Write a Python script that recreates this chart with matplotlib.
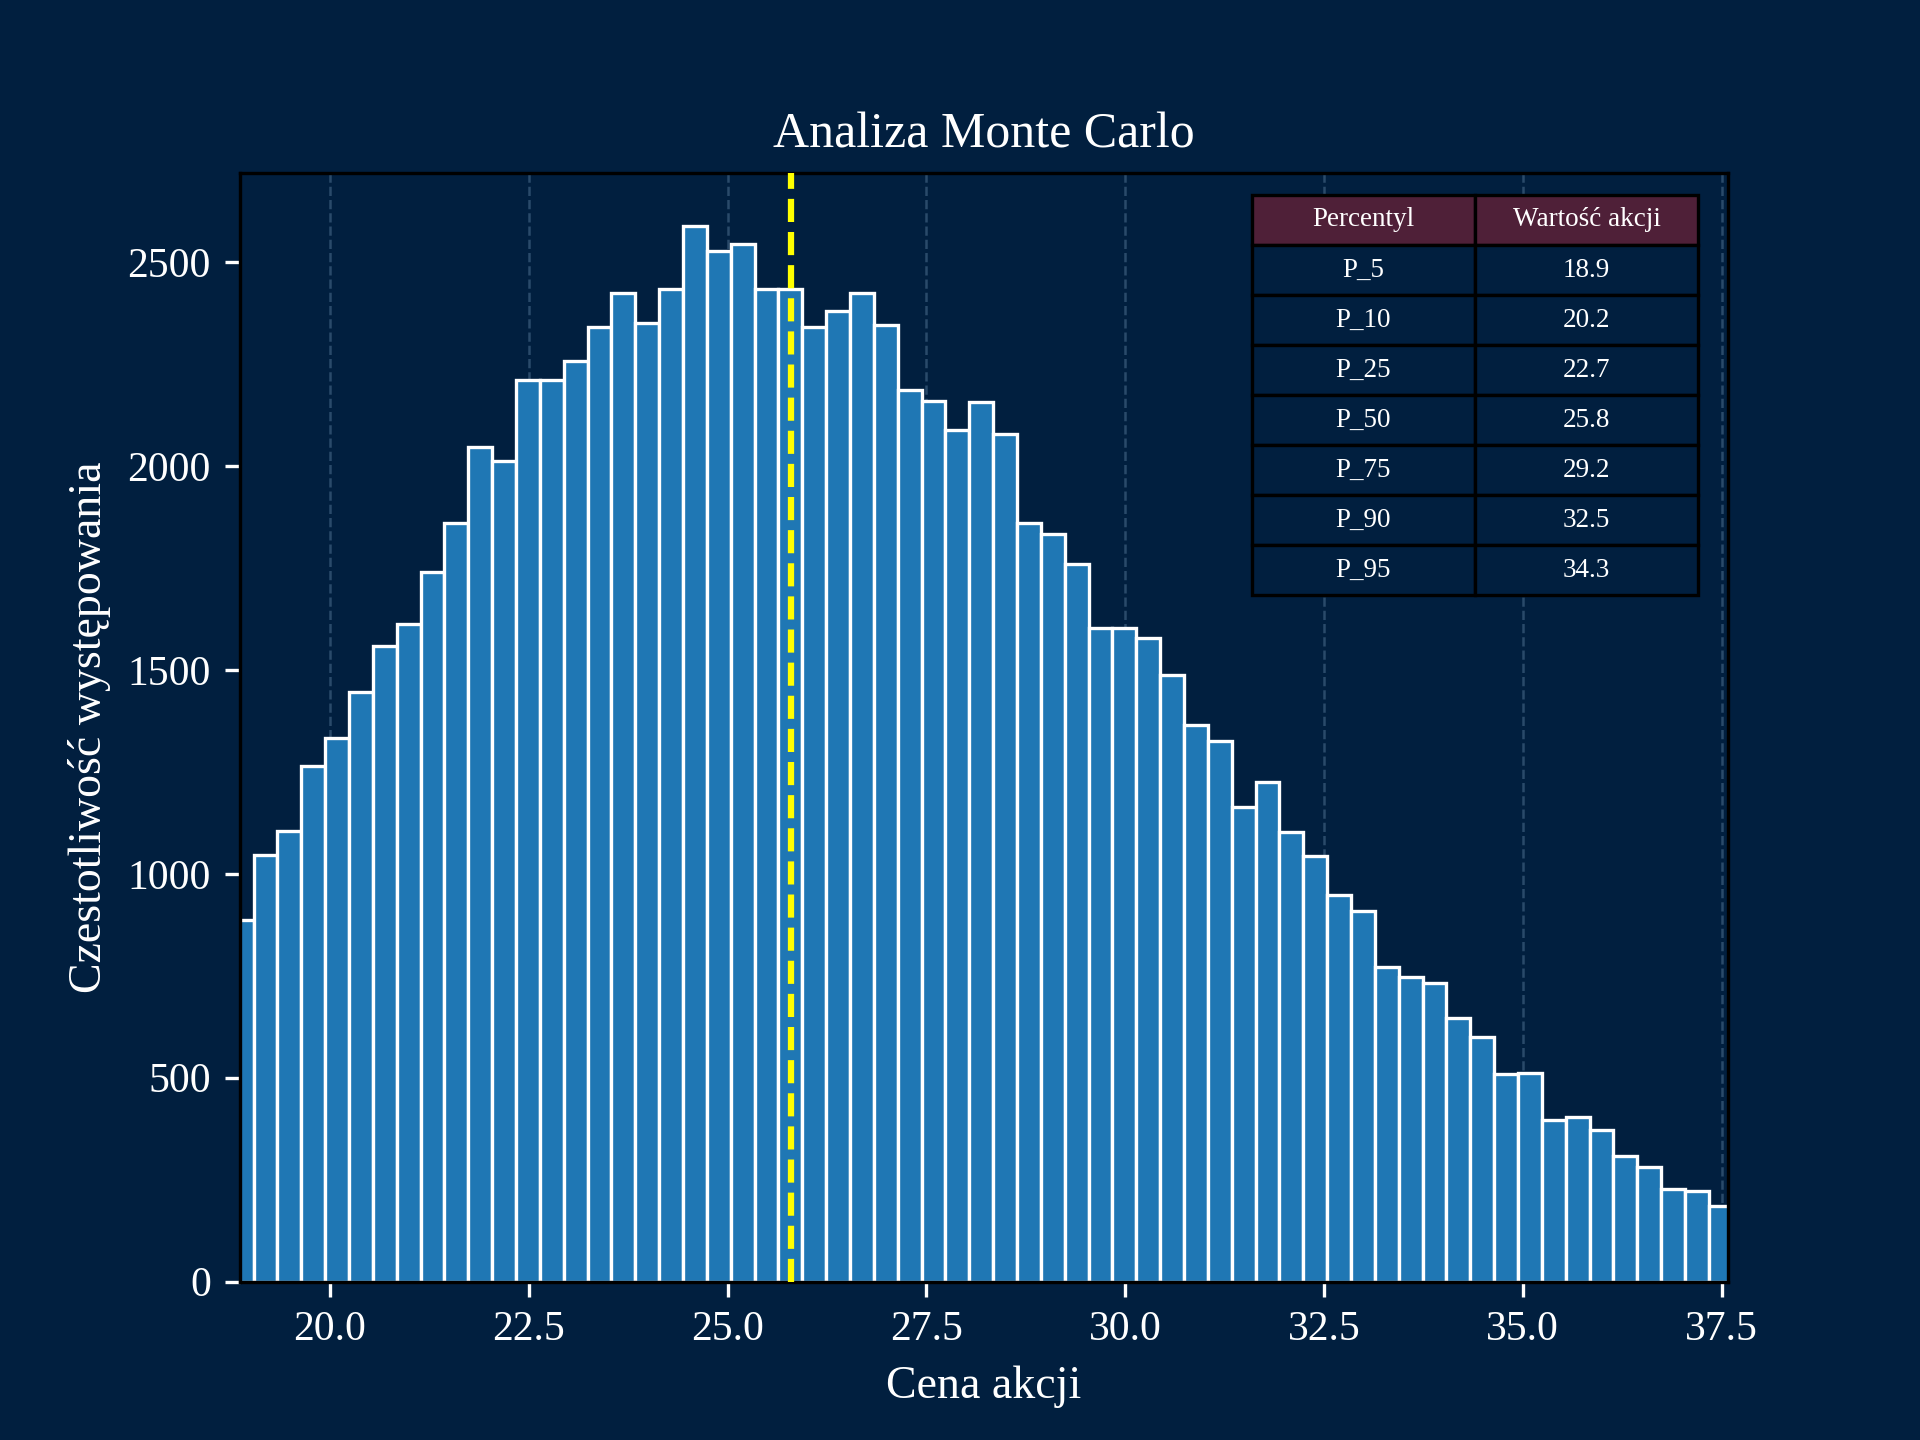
import matplotlib
matplotlib.use("Agg")
import matplotlib.pyplot as plt
import numpy as np

bin_start = 18.74
bin_width = 0.30
counts = [886,1046,1106,1265,1334,1445,1559,1614,1740,1860,2046,2013,2212,2212,2257,2341,2425,2350,2434,2590,
          2527,2545,2434,2434,2341,2380,2425,2347,2188,2160,2088,2157,2079,1860,1833,1761,1602,1602,1578,1487,
          1364,1325,1163,1226,1103,1043,947,910,772,748,733,646,601,508,511,397,403,373,309,282,228,222,186]
median = 25.8
pct_labels = ["P_5","P_10","P_25","P_50","P_75","P_90","P_95"]
pct_values = ["18.9","20.2","22.7","25.8","29.2","32.5","34.3"]

plt.rcParams["font.family"] = "Liberation Serif"
bg = "#011f3f"
fig, ax = plt.subplots(figsize=(6.4, 4.8), dpi=300)
fig.patch.set_facecolor(bg)
ax.set_facecolor(bg)

edges = bin_start + bin_width*np.arange(len(counts)+1)
ax.bar(edges[:-1], counts, width=bin_width, align="edge", color="#1f77b4", edgecolor="white", linewidth=0.8, zorder=2)
ax.axvline(median, color="yellow", linestyle="--", linewidth=1.5, zorder=3)
ax.grid(axis="x", color="#2a4a6a", linestyle="--", linewidth=0.6, zorder=0)
ax.set_xlim(18.87, 37.58)
ax.set_title("Analiza Monte Carlo", color="white", fontsize=12)
ax.set_xlabel("Cena akcji", color="white", fontsize=11)
ax.set_ylabel("Czestotliwość występowania", color="white", fontsize=11)
ax.tick_params(colors="white", labelsize=10)
for s in ax.spines.values():
    s.set_color("black")

tbl = ax.table(cellText=[[a, b] for a, b in zip(pct_labels, pct_values)],
               colLabels=["Percentyl", "Wartość akcji"], cellLoc="center",
               bbox=[0.68, 0.619, 0.30, 0.361])
tbl.auto_set_font_size(False)
tbl.set_fontsize(6.5)
tbl.set_zorder(5)
for (r, c), cell in tbl.get_celld().items():
    cell.set_edgecolor("black")
    cell.set_linewidth(0.8)
    cell.set_facecolor("#4f2038" if r == 0 else bg)
    cell.get_text().set_color("white")

fig.savefig("out.png", dpi=300, facecolor=bg)
